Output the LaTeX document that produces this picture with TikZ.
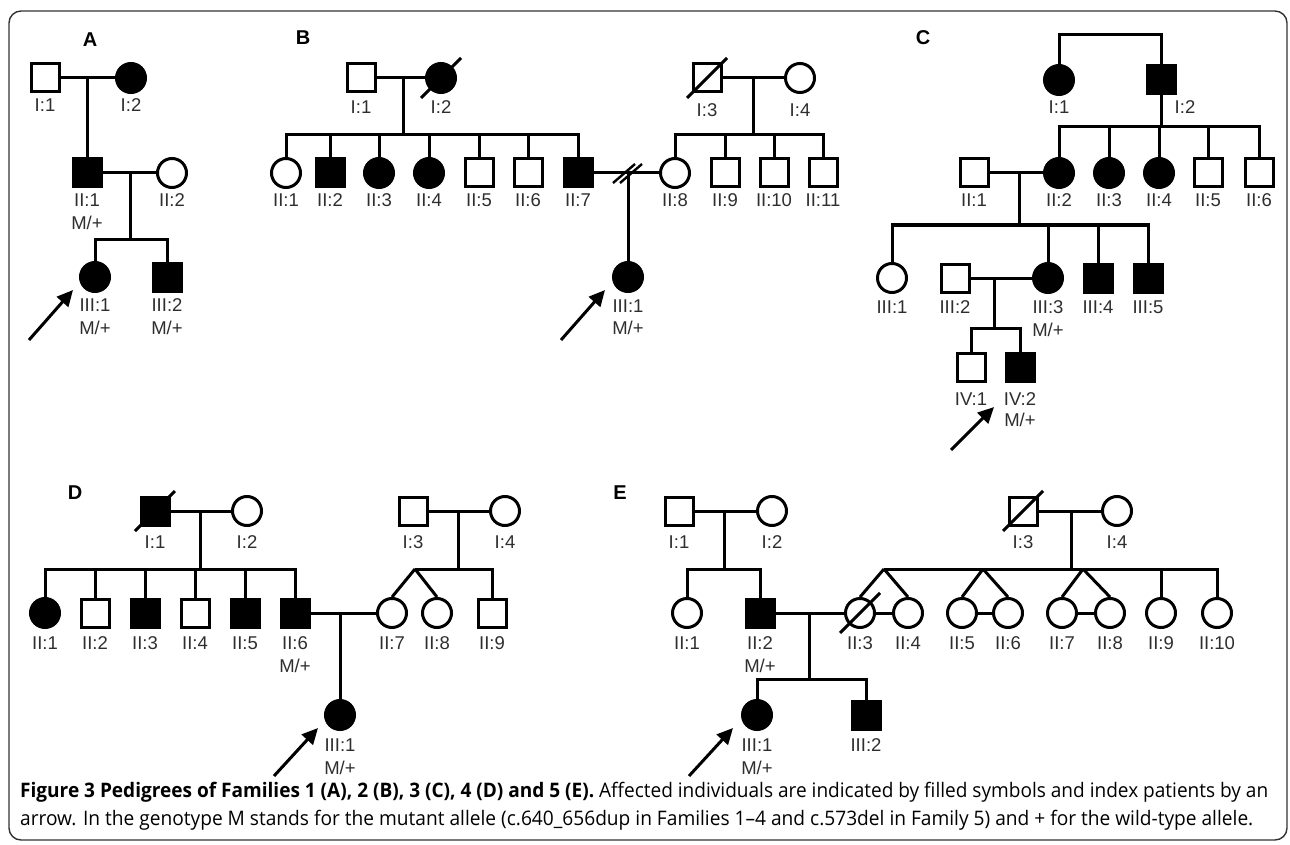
\documentclass[tikz,border=0pt]{standalone}
\usepackage{graphicx}
\usepackage{fontspec}
\setmainfont{Liberation Sans}
\newfontfamily\capfont{Open Sans}
\usetikzlibrary{arrows.meta}
\tikzset{
 sym/.style={draw, line width=3pt, minimum size=28pt, inner sep=0pt, fill=white},
 male/.style={sym, rectangle},
 female/.style={sym, circle, minimum size=29pt},
 aff/.style={fill=black},
 ln/.style={line width=3pt},
 lab/.style={font=\fontsize{18.5}{20}\selectfont, text=black!82, inner sep=0pt, text height=13.2pt, text depth=0pt},
 fam/.style={font=\fontsize{20}{22}\selectfont\bfseries, inner sep=0pt},
 idx/.style={line width=3pt, -{Triangle[length=16pt,width=15pt]}},
}
\newcommand\plab[3]{\node[lab] (#1l) at ([yshift=-#2pt]#1.center) {#3};}
\newcommand\pgen[2]{\node[lab] (#1g) at ([yshift=-#2pt]#1.center) {M/+};}
\newcommand\pdec[1]{\draw[ln] ([shift={(-20,20)}]#1.center) -- ([shift={(20,-20)}]#1.center);}
\begin{document}
\begin{tikzpicture}[x=1pt,y=-1pt]
\useasboundingbox (0,0) rectangle (1290,845);
\draw[rounded corners=12pt, line width=1.4pt, black!80] (9,11) rectangle (1287,840);

% ---------------- Family A
\node[fam] (Alab) at (90,40) {A};
\node[male] (A11) at (45,78) {};
\node[female,aff] (A12) at (131,78) {};
\node[male,aff] (A21) at (87,173) {};
\node[female] (A22) at (172,173) {};
\node[female,aff] (A31) at (95,277) {};
\node[male,aff] (A32) at (167,277) {};
\coordinate (Am1) at (87,78);
\coordinate (Am2) at (130,173);
\coordinate (As2) at (130,239);
\draw[ln] (A11) -- (A12);
\draw[ln] (Am1) -- (A21);
\draw[ln] (A21) -- (A22);
\draw[ln] (Am2) -- (As2);
\draw[ln] (A31) |- (As2) -| (A32);
\plab{A11}{27}{I:1} \plab{A12}{27}{I:2}
\plab{A21}{27}{II:1} \pgen{A21}{50} \plab{A22}{27}{II:2}
\plab{A31}{28}{III:1} \pgen{A31}{51} \plab{A32}{28}{III:2} \pgen{A32}{51}
\coordinate (Aat) at (29,340);
\coordinate (Aah) at (73,290);
\draw[idx] (Aat) -- (Aah);

% ---------------- Family B
\node[fam] (Blab) at (303,38) {B};
\node[male] (B11) at (361,78) {};
\node[female,aff] (B12) at (441,78) {};
\node[male] (B13) at (707,78) {};
\node[female] (B14) at (800,78) {};
\node[female] (B21) at (286,173) {};
\node[male,aff] (B22) at (330,173) {};
\node[female,aff] (B23) at (379,173) {};
\node[female,aff] (B24) at (429,173) {};
\node[male] (B25) at (479,173) {};
\node[male] (B26) at (528,173) {};
\node[male,aff] (B27) at (578,173) {};
\node[female] (B28) at (675,173) {};
\node[male] (B29) at (725,173) {};
\node[male] (B210) at (774,173) {};
\node[male] (B211) at (823,173) {};
\node[female,aff] (B31) at (628,277) {};
\coordinate (Bm1) at (403,78);
\coordinate (Bs1) at (403,135);
\coordinate (Bm2) at (753,78);
\coordinate (Bs2) at (753,135);
\coordinate (Bm3) at (628,173);
\draw[ln] (B11) -- (B12);
\draw[ln] (B13) -- (B14);
\draw[ln] (Bm1) -- (Bs1);
\draw[ln] (Bm2) -- (Bs2);
\draw[ln] (B21) |- (Bs1) -| (B27);
\foreach \n in {B22,B23,B24,B25,B26} \draw[ln] (\n) -- (\n |- Bs1);
\draw[ln] (B28) |- (Bs2) -| (B211);
\foreach \n in {B29,B210} \draw[ln] (\n) -- (\n |- Bs2);
\draw[ln] (B27) -- (B28);
\draw[ln] (Bm3) -- (B31);
\draw[line width=2.4pt] ([shift={(-15,10)}]Bm3) -- ([shift={(7,-9)}]Bm3);
\draw[line width=2.4pt] ([shift={(-8,10)}]Bm3) -- ([shift={(14,-9)}]Bm3);
\pdec{B12} \pdec{B13}
\plab{B11}{29}{I:1} \plab{B12}{29}{I:2} \plab{B13}{32}{I:3} \plab{B14}{32}{I:4}
\plab{B21}{27}{II:1} \plab{B22}{27}{II:2} \plab{B23}{27}{II:3} \plab{B24}{27}{II:4}
\plab{B25}{27}{II:5} \plab{B26}{27}{II:6} \plab{B27}{27}{II:7} \plab{B28}{27}{II:8}
\plab{B29}{27}{II:9} \plab{B210}{27}{II:10} \plab{B211}{27}{II:11}
\plab{B31}{29}{III:1} \pgen{B31}{51}
\coordinate (Bat) at (561,340);
\coordinate (Bah) at (605,290);
\draw[idx] (Bat) -- (Bah);

% ---------------- Family C
\node[fam] (Clab) at (923,38) {C};
\node[female,aff] (C11) at (1059,80) {};
\node[male,aff] (C12) at (1161,80) {};
\node[male] (C21) at (974,173) {};
\node[female,aff] (C22) at (1059,173) {};
\node[female,aff] (C23) at (1109,173) {};
\node[female,aff] (C24) at (1159,173) {};
\node[male] (C25) at (1208,173) {};
\node[male] (C26) at (1259,173) {};
\node[female] (C31) at (892,278) {};
\node[male] (C32) at (955,278) {};
\node[female,aff] (C33) at (1048,278) {};
\node[male,aff] (C34) at (1098,278) {};
\node[male,aff] (C35) at (1148,278) {};
\node[male] (C41) at (971,367) {};
\node[male,aff] (C42) at (1020,367) {};
\coordinate (Ct) at (1110,35);
\coordinate (Cs1) at (1161,127);
\coordinate (Cm1) at (1019,173);
\coordinate (Cs2) at (1019,225);
\coordinate (Cm2) at (994,278);
\coordinate (Cs3) at (994,328);
\draw[ln] (C11) |- (Ct) -| (C12);
\draw[ln] (C12) -- (Cs1);
\draw[ln] (C22) |- (Cs1) -| (C26);
\foreach \n in {C23,C24,C25} \draw[ln] (\n) -- (\n |- Cs1);
\draw[ln] (C21) -- (C22);
\draw[ln] (Cm1) -- (Cs2);
\draw[ln] (C31) |- (Cs2) -| (C35);
\foreach \n in {C33,C34} \draw[ln] (\n) -- (\n |- Cs2);
\draw[ln] (C32) -- (C33);
\draw[ln] (Cm2) -- (Cs3);
\draw[ln] (C41) |- (Cs3) -| (C42);
\plab{C11}{27}{I:1}
\node[lab] (C12l) at (1185,107) {I:2};
\plab{C21}{27}{II:1} \plab{C22}{27}{II:2} \plab{C23}{27}{II:3} \plab{C24}{27}{II:4}
\plab{C25}{27}{II:5} \plab{C26}{27}{II:6}
\plab{C31}{29}{III:1} \plab{C32}{29}{III:2} \plab{C33}{29}{III:3} \pgen{C33}{52}
\plab{C34}{29}{III:4} \plab{C35}{29}{III:5}
\plab{C41}{32}{IV:1} \plab{C42}{32}{IV:2} \pgen{C42}{53}
\coordinate (Cat) at (951,450);
\coordinate (Cah) at (994,407);
\draw[idx] (Cat) -- (Cah);

% ---------------- Family D
\node[fam] (Dlab) at (75,493) {D};
\node[male,aff] (D11) at (155,511) {};
\node[female] (D12) at (247,511) {};
\node[male] (D13) at (413,511) {};
\node[female] (D14) at (505,511) {};
\node[female,aff] (D21) at (45,613) {};
\node[male] (D22) at (95,613) {};
\node[male,aff] (D23) at (145,613) {};
\node[male] (D24) at (195,613) {};
\node[male,aff] (D25) at (245,613) {};
\node[male,aff] (D26) at (295,613) {};
\node[female] (D27) at (392,613) {};
\node[female] (D28) at (437,613) {};
\node[male] (D29) at (492,613) {};
\node[female,aff] (D31) at (340,715) {};
\coordinate (Dm1) at (200,511);
\coordinate (Ds1) at (200,569);
\coordinate (Dm2) at (458,511);
\coordinate (Ds2) at (458,569);
\coordinate (Dt) at (415,569);
\coordinate (Dm3) at (340,613);
\draw[ln] (D11) -- (D12);
\draw[ln] (Dm1) -- (Ds1);
\draw[ln] (D21) |- (Ds1) -| (D26);
\foreach \n in {D22,D23,D24,D25} \draw[ln] (\n) -- (\n |- Ds1);
\draw[ln] (D13) -- (D14);
\draw[ln] (Dm2) -- (Ds2);
\draw[ln] (Dt) -| (D29);
\draw[ln] (Dt) -- (D27.north);
\draw[ln] (Dt) -- (D28.north);
\draw[ln] (D26) -- (D27);
\draw[ln] (Dm3) -- (D31);
\pdec{D11}
\plab{D11}{31}{I:1} \plab{D12}{31}{I:2} \plab{D13}{31}{I:3} \plab{D14}{31}{I:4}
\plab{D21}{30}{II:1} \plab{D22}{30}{II:2} \plab{D23}{30}{II:3} \plab{D24}{30}{II:4}
\plab{D25}{30}{II:5} \plab{D26}{30}{II:6} \pgen{D26}{53}
\plab{D27}{30}{II:7} \plab{D28}{30}{II:8} \plab{D29}{30}{II:9}
\plab{D31}{30}{III:1} \pgen{D31}{53}
\coordinate (Dat) at (274,776);
\coordinate (Dah) at (318,728);
\draw[idx] (Dat) -- (Dah);

% ---------------- Family E
\node[fam] (Elab) at (620,493) {E};
\node[male] (E11) at (679,511) {};
\node[female] (E12) at (772,511) {};
\node[male] (E13) at (1023,511) {};
\node[female] (E14) at (1117,511) {};
\node[female] (E21) at (687,613) {};
\node[male,aff] (E22) at (760,613) {};
\node[female] (E23) at (860,613) {};
\node[female] (E24) at (908,613) {};
\node[female] (E25) at (962,613) {};
\node[female] (E26) at (1008,613) {};
\node[female] (E27) at (1062,613) {};
\node[female] (E28) at (1110,613) {};
\node[female] (E29) at (1161,613) {};
\node[female] (E210) at (1217,613) {};
\node[female,aff] (E31) at (757,715) {};
\node[male,aff] (E32) at (866,715) {};
\coordinate (Em1) at (724,511);
\coordinate (Es1) at (724,569);
\coordinate (Em2) at (1071,511);
\coordinate (Es2) at (1071,569);
\coordinate (Et1) at (884,569);
\coordinate (Et2) at (983,569);
\coordinate (Et3) at (1083,569);
\coordinate (Em3) at (809,613);
\coordinate (Es3) at (809,679);
\draw[ln] (E11) -- (E12);
\draw[ln] (Em1) -- (Es1);
\draw[ln] (E21) |- (Es1) -| (E22);
\draw[ln] (E13) -- (E14);
\draw[ln] (Em2) -- (Es2);
\draw[ln] (Et1) -| (E210);
\draw[ln] (E29) -- (E29 |- Es2);
\draw[ln] (Et1) -- (E23.north);
\draw[ln] (Et1) -- (E24.north);
\draw[ln] (Et2) -- (E25.north);
\draw[ln] (Et2) -- (E26.north);
\draw[ln] (Et3) -- (E27.north);
\draw[ln] (Et3) -- (E28.north);
\draw[ln] (E23) -- (E24);
\draw[ln] (E25) -- (E26);
\draw[ln] (E27) -- (E28);
\draw[ln] (E22) -- (E23);
\draw[ln] (Em3) -- (Es3);
\draw[ln] (E31) |- (Es3) -| (E32);
\pdec{E13} \pdec{E23}
\plab{E11}{31}{I:1} \plab{E12}{31}{I:2} \plab{E13}{31}{I:3} \plab{E14}{31}{I:4}
\plab{E21}{30}{II:1} \plab{E22}{30}{II:2} \pgen{E22}{53}
\plab{E23}{30}{II:3} \plab{E24}{30}{II:4} \plab{E25}{30}{II:5} \plab{E26}{30}{II:6}
\plab{E27}{30}{II:7} \plab{E28}{30}{II:8} \plab{E29}{30}{II:9} \plab{E210}{30}{II:10}
\plab{E31}{30}{III:1} \pgen{E31}{53} \plab{E32}{30}{III:2}
\coordinate (Eat) at (689,776);
\coordinate (Eah) at (733,728);
\draw[idx] (Eat) -- (Eah);

% ---------------- caption
\node[anchor=base west, inner sep=0pt] (cap1) at (20,797)
 {\resizebox{1248pt}{\height}{\capfont\fontsize{20}{22}\selectfont\textbf{Figure 3 Pedigrees of Families 1 (A), 2 (B), 3 (C), 4 (D) and 5 (E).} Affected individuals are indicated by filled symbols and index patients by an}};
\node[anchor=base west, inner sep=0pt] (cap2) at (20,825)
 {\resizebox{1233pt}{\height}{\capfont\fontsize{20}{22}\selectfont arrow. In the genotype M stands for the mutant allele (c.640\_656dup in Families 1–4 and c.573del in Family 5) and + for the wild-type allele.}};
\end{tikzpicture}
\end{document}
